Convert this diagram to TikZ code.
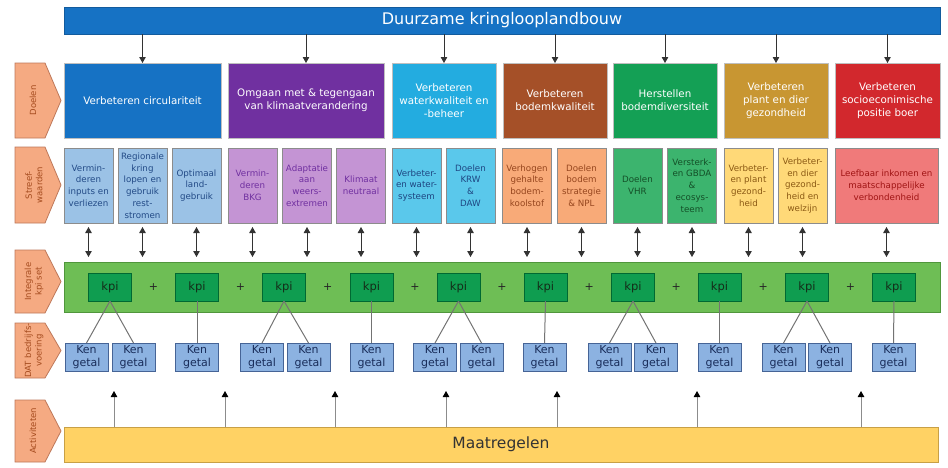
\documentclass[tikz,border=0pt]{standalone}
\usepackage{fontspec}
\setmainfont{DejaVu Sans}
\usetikzlibrary{arrows.meta}
\definecolor{topblue}{RGB}{22,114,196}
\definecolor{dA}{RGB}{22,114,196}
\definecolor{dB}{RGB}{112,48,160}
\definecolor{dC}{RGB}{35,172,224}
\definecolor{dD}{RGB}{165,80,40}
\definecolor{dE}{RGB}{20,160,85}
\definecolor{dF}{RGB}{200,150,50}
\definecolor{dG}{RGB}{210,40,45}
\definecolor{sA}{RGB}{155,194,230}
\definecolor{sB}{RGB}{196,148,212}
\definecolor{sC}{RGB}{90,200,235}
\definecolor{sD}{RGB}{248,170,120}
\definecolor{sE}{RGB}{60,180,110}
\definecolor{sF}{RGB}{255,217,120}
\definecolor{sG}{RGB}{240,122,122}
\definecolor{tA}{RGB}{35,75,135}
\definecolor{tB}{RGB}{112,48,160}
\definecolor{tC}{RGB}{30,70,130}
\definecolor{tD}{RGB}{150,70,30}
\definecolor{tE}{RGB}{20,80,40}
\definecolor{tF}{RGB}{140,90,20}
\definecolor{tG}{RGB}{160,20,20}
\definecolor{kbarg}{RGB}{110,190,85}
\definecolor{kbard}{RGB}{80,150,60}
\definecolor{kpig}{RGB}{15,157,80}
\definecolor{kpid}{RGB}{0,105,50}
\definecolor{kpit}{RGB}{20,45,25}
\definecolor{kenb}{RGB}{140,178,225}
\definecolor{kend}{RGB}{70,100,150}
\definecolor{kent}{RGB}{25,45,90}
\definecolor{maatf}{RGB}{255,210,100}
\definecolor{maatd}{RGB}{200,160,70}
\definecolor{lblf}{RGB}{245,170,130}
\definecolor{lbld}{RGB}{190,120,90}
\definecolor{lblt}{RGB}{165,75,30}
\begin{document}
\begin{tikzpicture}[x=1pt,y=-1pt,
  box/.style={rectangle, inner sep=1pt, outer sep=0pt, align=center},
  goal/.style={box, draw=black!25, line width=0.8pt, text=white, font=\fontsize{10.3}{13}\selectfont, minimum height=75pt},
  target/.style={box, draw=black!45, line width=0.7pt, font=\fontsize{8.7}{11.8}\selectfont, minimum height=75pt, minimum width=49pt},
  kpibox/.style={box, fill=kpig, draw=kpid, line width=0.8pt, minimum width=43pt, minimum height=28pt, font=\fontsize{11.5}{13}\selectfont, text=kpit},
  kenbox/.style={box, fill=kenb, draw=kend, line width=0.8pt, minimum width=43pt, minimum height=28pt, font=\fontsize{11}{12.5}\selectfont, text=kent},
  plussign/.style={inner sep=0pt, font=\fontsize{11}{13}\selectfont, text=black!85},
  downarrow/.style={-{Triangle[length=6pt,width=6.5pt]}, line width=0.9pt, draw=black!80},
  bothways/.style={{Triangle[length=6pt,width=6.5pt]}-{Triangle[length=6pt,width=6.5pt]}, line width=0.9pt, draw=black!80},
  uparrow/.style={-{Triangle[length=6pt,width=6.5pt,color=black]}, line width=1pt, draw=black!45},
  kenline/.style={line width=1pt, draw=black!55},
  labelshape/.style={fill=lblf, draw=lbld, line width=0.8pt},
  labeltext/.style={rotate=90, inner sep=0pt, align=center, text=lblt, font=\fontsize{8.5}{10.5}\selectfont}
]
\useasboundingbox (0,0) rectangle (948,467);

% top bar
\node[box, fill=topblue, draw=topblue!80!black, line width=0.8pt, minimum width=876pt, minimum height=27pt, text=white, font=\fontsize{16}{19}\selectfont] (top) at (502,20.5) {Duurzame kringlooplandbouw};

% Doelen
\node[goal, fill=dA, minimum width=157pt] (d1) at (142.5,100.5) {Verbeteren circulariteit};
\node[goal, fill=dB, minimum width=156pt] (d2) at (306,100.5) {Omgaan met \& tegengaan\\van klimaatverandering};
\node[goal, fill=dC, minimum width=104pt] (d3) at (444,100.5) {Verbeteren\\waterkwaliteit en\\-beheer};
\node[goal, fill=dD, minimum width=104pt] (d4) at (555,100.5) {Verbeteren\\bodemkwaliteit};
\node[goal, fill=dE, minimum width=104pt] (d5) at (665,100.5) {Herstellen\\bodemdiversiteit};
\node[goal, fill=dF, minimum width=104pt] (d6) at (776,100.5) {Verbeteren\\plant en dier\\gezondheid};
\node[goal, fill=dG, minimum width=105pt] (d7) at (887.5,100.5) {Verbeteren\\socioeconimische\\positie boer};

\foreach \i in {1,...,7} \draw[downarrow] (d\i.north |- top.south) -- (d\i.north);

% Streefwaarden
\node[target, fill=sA, text=tA] (s1) at (88.5,185.5) {Vermin-\\deren\\inputs en\\verliezen};
\node[target, fill=sA, text=tA] (s2) at (142.5,185.5) {Regionale\\kring\\lopen en\\gebruik\\rest-\\stromen};
\node[target, fill=sA, text=tA] (s3) at (196.5,185.5) {Optimaal\\land-\\gebruik};
\node[target, fill=sB, text=tB] (s4) at (252.5,185.5) {Vermin-\\deren\\BKG};
\node[target, fill=sB, text=tB] (s5) at (307,185.5) {Adaptatie\\aan\\weers-\\extremen};
\node[target, fill=sB, text=tB] (s6) at (361,185.5) {Klimaat\\neutraal};
\node[target, fill=sC, text=tC] (s7) at (416.5,185.5) {Verbeter-\\en water-\\systeem};
\node[target, fill=sC, text=tC] (s8) at (470.5,185.5) {Doelen\\KRW\\\&\\DAW};
\node[target, fill=sD, text=tD] (s9) at (527,185.5) {Verhogen\\gehalte\\bodem-\\koolstof};
\node[target, fill=sD, text=tD] (s10) at (581.5,185.5) {Doelen\\bodem\\strategie\\\& NPL};
\node[target, fill=sE, text=tE] (s11) at (637.5,185.5) {Doelen\\VHR};
\node[target, fill=sE, text=tE] (s12) at (692,185.5) {Versterk-\\en GBDA\\\&\\ecosys-\\teem};
\node[target, fill=sF, text=tF] (s13) at (748.5,185.5) {Verbeter-\\en plant\\gezond-\\heid};
\node[target, fill=sF, text=tF] (s14) at (802.5,185.5) {Verbeter-\\en dier\\gezond-\\heid en\\welzijn};
\node[target, fill=sG, text=tG, minimum width=103pt] (s15) at (886.5,185.5) {Leefbaar inkomen en\\maatschappelijke\\verbondenheid};

% kpi bar
\node[box, fill=kbarg, draw=kbard, line width=0.8pt, minimum width=876pt, minimum height=50pt] (kbar) at (502,287) {};
\coordinate (kt) at ([yshift=5pt]kbar.north);
\foreach \i in {1,...,15} \draw[bothways] ([yshift=-4pt]s\i.south) -- (s\i.south |- kt);

\foreach \x [count=\i] in {110,197,284,371.5,458.5,545.5,633,719.5,807,894}
  \node[kpibox] (kpi\i) at (\x,287) {kpi};
\foreach \x [count=\i] in {153.5,240.5,327.75,415,502,589.25,676.25,763.25,850.5}
  \node[plussign] (p\i) at (\x,287) {+};

% Ken getal
\foreach \x [count=\i] in {86.5,133.5,197,262,308.5,371.5,435,481.5,544.5,609.5,656,719.5,783.5,830,893.5}
  \node[kenbox] (k\i) at (\x,357) {Ken\\getal};
\foreach \a/\b in {1/1,1/2,2/3,3/4,3/5,4/6,5/7,5/8,6/9,7/10,7/11,8/12,9/13,9/14,10/15}
  \draw[kenline] (kpi\a.south) -- (k\b.north);

% Maatregelen
\node[box, fill=maatf, draw=maatd, line width=0.8pt, minimum width=874pt, minimum height=35pt, text=black!80, font=\fontsize{15.5}{18}\selectfont] (mbar) at (501,444.5) {Maatregelen};
\foreach \x [count=\i] in {114,225,335,446,557,697,861}
  \coordinate (m\i) at (\x,391);
\foreach \i in {1,...,7} \draw[uparrow] (m\i |- mbar.north) -- (m\i);

% left labels
\foreach \t/\b in {63/138, 147/223, 250/313, 323/378, 400/462}
  \draw[labelshape] (15,\t) -- (45,\t) -- (61,{(\t+\b)/2}) -- (45,\b) -- (15,\b) -- cycle;
\node[labeltext] (l1) at (33,100.5) {Doelen};
\node[labeltext] (l2) at (34,185) {Streef-\\waarden};
\node[labeltext] (l3) at (34,281.5) {Integrale\\kpi set};
\node[labeltext] (l4) at (34,350.5) {DAT bedrijfs-\\voering};
\node[labeltext] (l5) at (33,431) {Activiteten};
\end{tikzpicture}
\end{document}
